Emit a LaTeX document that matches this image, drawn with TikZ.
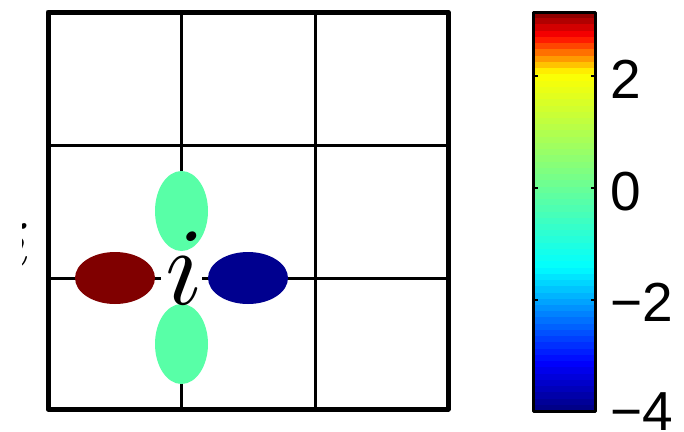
\documentclass[tikz,border=0pt]{standalone}
\usepackage{fontspec}
\usepackage{graphicx}
\usetikzlibrary{shapes.geometric}
\newfontfamily\ticksf{Liberation Sans}
\definecolor{ellred}{RGB}{128,0,0}
\definecolor{ellblue}{RGB}{0,0,143}
\definecolor{ellgreen}{RGB}{88,255,167}
\begin{document}
\begin{tikzpicture}[x=1pt,y=-1pt,
  framebox/.style={line width=5pt, line join=round, line cap=round},
  gridline/.style={line width=3pt},
  cbframe/.style={line width=3pt, line join=round},
  cbtick/.style={line width=2.5pt},
  ticklabel/.style={font=\ticksf\fontsize{55}{55}\selectfont, anchor=west, inner sep=0pt},
  hblob/.style={ellipse, inner sep=0pt, minimum width=80pt, minimum height=52pt},
  vblob/.style={ellipse, inner sep=0pt, minimum width=53pt, minimum height=80pt}]
\useasboundingbox (0,0) rectangle (684,431);
\fill[white] (0,0) rectangle (684,431);
% grid
\draw[gridline] (181.5,12) -- (181.5,409);
\draw[gridline] (315,12) -- (315,409);
\draw[gridline] (48,145) -- (448,145);
\draw[gridline] (48,278) -- (448,278);
\draw[framebox] (48,12) rectangle (448,409);
% white box behind the label
\node[fill=white, inner sep=0pt, minimum width=41pt, minimum height=64pt] (ibox) at (181.5,272) {};
% blobs
\node[hblob, fill=ellred] (lred) at (115,278) {};
\node[hblob, fill=ellblue] (lblue) at (248,278) {};
\node[vblob, fill=ellgreen] (lgtop) at (181.5,211) {};
\node[vblob, fill=ellgreen] (lgbot) at (181.5,344) {};
% label
\node[anchor=base, inner sep=0pt] (ilabel) at (184.5,304) {\scalebox{11}{$i$}};
% clipped fragment at left
\begin{scope}
\clip (22,200) rectangle (45,290);
\node[anchor=base, inner sep=0pt] (ifrag) at (20,266) {\scalebox{6.5}{$i$}};
\end{scope}
% colorbar bands
\foreach \k in {0,...,63}{
  \pgfmathsetmacro\bandt{(\k+0.5)/64}
  \pgfmathsetmacro\bandR{min(1,max(0,\bandt<0.36 ? 0 : (\bandt<0.845 ? (\bandt-0.36)/0.485 : (\bandt<0.94 ? 1 : 1-0.5*(\bandt-0.94)/0.06))))}
  \pgfmathsetmacro\bandG{min(1,max(0,\bandt<0.12 ? 0 : (\bandt<0.36 ? (\bandt-0.12)/0.24 : (\bandt<0.845 ? 1 : (\bandt<0.94 ? 1-(\bandt-0.845)/0.095 : 0)))))}
  \pgfmathsetmacro\bandB{min(1,max(0,\bandt<0.12 ? 0.5+0.5*\bandt/0.12 : (\bandt<0.36 ? 1 : (\bandt<0.845 ? 1-(\bandt-0.36)/0.485 : 0))))}
  \definecolor{bandcol}{rgb}{\bandR,\bandG,\bandB}
  \fill[bandcol] (534,{411-\k*6.234}) rectangle (594,{411-(\k+1)*6.234-0.4});
}
\draw[cbframe] (533,12) rectangle (595,411);
\foreach \ty in {76,188,300}{
  \draw[cbtick] (533,\ty) -- (537.5,\ty);
  \draw[cbtick] (595,\ty) -- (590.5,\ty);
}
% tick labels
\node[ticklabel] (t2) at (610.5,79) {2};
\node[ticklabel] (t0) at (610.5,192) {0};
\node[ticklabel] (tm2) at (610,302) {−2};
\node[ticklabel] (tm4) at (610,412) {−4};
\end{tikzpicture}
\end{document}
